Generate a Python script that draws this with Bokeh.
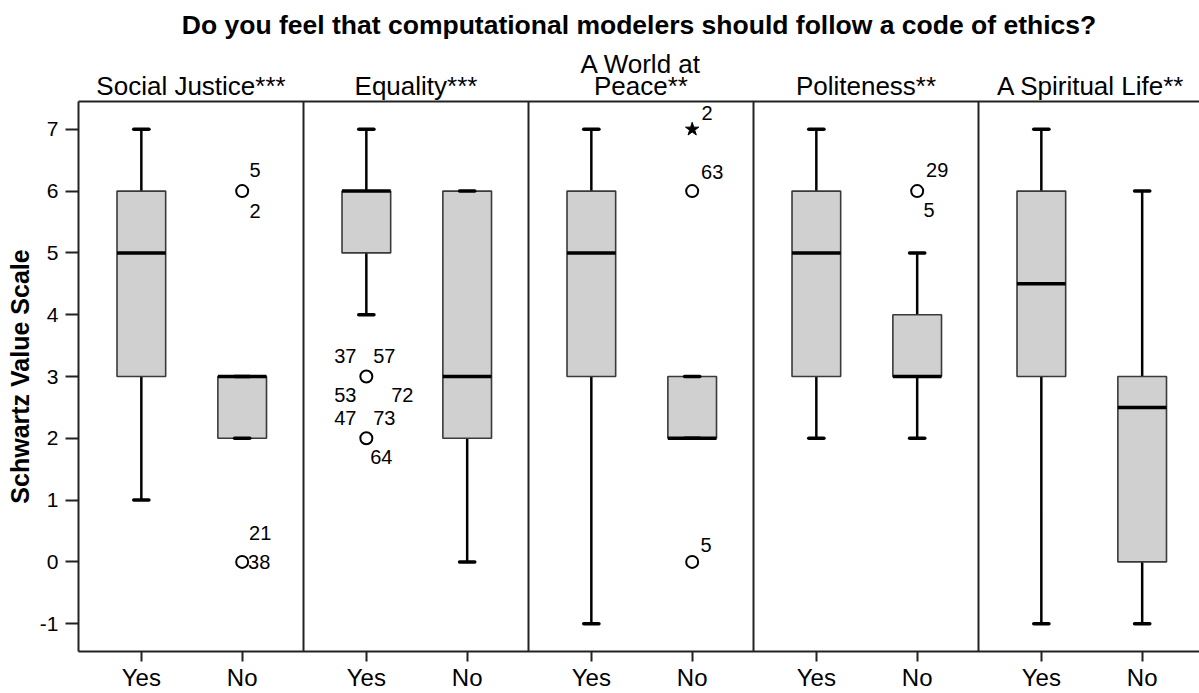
from bokeh.plotting import figure
from bokeh.models import Range1d, FixedTicker, LinearAxis, Span, ColumnDataSource
from bokeh.embed import file_html
from bokeh.resources import INLINE
from bokeh.core.properties import value

# ---------------- data ----------------
title_text = "Do you feel that computational modelers should follow a code of ethics?"
panels = ["Social Justice***", "Equality***", "A World at\nPeace**", "Politeness**", "A Spiritual Life**"]
groups = ["Yes", "No"]

# box statistics per panel: [Yes, No]
whisker_low = [[1, 2], [4, 0], [-1, 2], [2, 2], [-1, -1]]
quart1 = [[3, 2], [5, 2], [3, 2], [3, 3], [3, 0]]
medians = [[5, 3], [6, 3], [5, 2], [5, 3], [4.5, 2.5]]
quart3 = [[6, 3], [6, 6], [6, 3], [6, 4], [6, 3]]
whisker_high = [[7, 3], [7, 6], [7, 3], [7, 5], [7, 6]]

# outliers (circles)
out_panel = [0, 0, 1, 1, 2, 2, 3]
out_group = [1, 1, 0, 0, 1, 1, 1]
out_value = [6, 0, 3, 2, 6, 0, 6]
# extremes (stars)
ext_panel = [2]
ext_group = [1]
ext_value = [7]

# case labels
lab_panel = [0, 0, 0, 0, 1, 1, 1, 1, 1, 1, 1, 2, 2, 2, 3, 3]
lab_group = [1, 1, 1, 1, 0, 0, 0, 0, 0, 0, 0, 1, 1, 1, 1, 1]
lab_value = [6, 6, 0, 0, 3, 3, 3, 3, 2, 2, 2, 7, 6, 0, 6, 6]
lab_text = ["5", "2", "21", "38", "37", "57", "53", "72", "47", "73", "64", "2", "63", "5", "29", "5"]

y_ticks = [-1, 0, 1, 2, 3, 4, 5, 6, 7]
y_tick_labels = ["-1", "0", "1", "2", "3", "4", "5", "6", "7"]

# ---------------- layout / style ----------------
lab_dx = [13, 13, 18, 17, -21, 18, -21, 36, -21, 18, 15, 15, 20, 14, 20, 12]
lab_dy = [-21, 20, -29, 0, -21, -21, 18, 18, -20, -20, 19, -16, -19, -17, -21, 19]

FONT = "Liberation Sans"
W = 2.22
GPOS = [0.62, 1.615]
FIG_W, FIG_H = 1199, 693
LEFT = 78
FRAME_W = FIG_W - LEFT
x_end = W * FRAME_W / 225.0

p = figure(width=FIG_W, height=FIG_H, output_backend="svg", toolbar_location=None,
           x_range=Range1d(0, x_end), y_range=Range1d(-1.45, 7.45),
           min_border_left=LEFT, min_border_right=0, min_border_top=101, min_border_bottom=41,
           background_fill_color="white", border_fill_color="white", outline_line_color=None)
p.grid.visible = False

p.title.text = title_text
p.title.align = "center"
p.title.vertical_align = "top"
p.title.text_font = FONT
p.title.text_font_style = "bold"
p.title.text_font_size = "26.5px"
p.title.text_color = "black"
p.title.standoff = 8

# y axis
ya = p.yaxis[0]
ya.ticker = FixedTicker(ticks=y_ticks)
ya.major_label_overrides = {t: s for t, s in zip(y_ticks, y_tick_labels)}
ya.minor_tick_line_color = None
ya.major_tick_in = 0
ya.major_tick_out = 13
ya.major_tick_line_width = 2
ya.major_tick_line_color = "#222222"
ya.axis_line_width = 2
ya.axis_line_color = "#222222"
ya.major_label_text_font = FONT
ya.major_label_text_font_size = "21px"
ya.major_label_text_color = "black"
ya.major_label_standoff = 7
ya.axis_label = "Schwartz Value Scale"
ya.axis_label_text_font = FONT
ya.axis_label_text_font_style = "bold"
ya.axis_label_text_font_size = "25px"
ya.axis_label_text_color = "black"
ya.axis_label_standoff = 3

# x axis (Yes / No)
xticks, xover = [], {}
for pi in range(len(panels)):
    for g in range(2):
        t = pi * W + GPOS[g]
        xticks.append(t)
        xover[t] = groups[g]
xa = p.xaxis[0]
xa.ticker = FixedTicker(ticks=xticks)
xa.major_label_overrides = xover
xa.minor_tick_line_color = None
xa.major_tick_in = 0
xa.major_tick_out = 10
xa.major_tick_line_width = 2
xa.major_tick_line_color = "#222222"
xa.axis_line_width = 2
xa.axis_line_color = "#222222"
xa.major_label_text_font = FONT
xa.major_label_text_font_size = "24px"
xa.major_label_text_color = "black"
xa.major_label_standoff = 2

# header axis on top
centers = [pi * W + W / 2 for pi in range(len(panels))]
top_axis = LinearAxis(ticker=FixedTicker(ticks=centers),
                      major_label_overrides={c: n for c, n in zip(centers, panels)},
                      major_tick_in=0, major_tick_out=0, minor_tick_in=0, minor_tick_out=0,
                      axis_line_color="#222222", axis_line_width=2,
                      major_label_text_font=FONT, major_label_text_font_size="26px",
                      major_label_text_color="black", major_label_standoff=1,
                      major_label_text_line_height=0.72)
p.add_layout(top_axis, "above")

for k in range(1, len(panels)):
    p.add_layout(Span(location=k * W, dimension="height", line_color="#222222", line_width=2))

# boxes
bx, blo, bq1, bmed, bq3, bhi = [], [], [], [], [], []
for pi in range(len(panels)):
    for g in range(2):
        bx.append(pi * W + GPOS[g])
        blo.append(whisker_low[pi][g])
        bq1.append(quart1[pi][g])
        bmed.append(medians[pi][g])
        bq3.append(quart3[pi][g])
        bhi.append(whisker_high[pi][g])

BOX_W = 0.48
CAP = 0.075
src = ColumnDataSource(dict(x=bx, lo=blo, q1=bq1, med=bmed, q3=bq3, hi=bhi,
                            cl=[v - CAP for v in bx], cr=[v + CAP for v in bx],
                            ml=[v - BOX_W / 2 for v in bx], mr=[v + BOX_W / 2 for v in bx]))
p.segment(x0="x", y0="q3", x1="x", y1="hi", source=src, line_color="black", line_width=2.5)
p.segment(x0="x", y0="q1", x1="x", y1="lo", source=src, line_color="black", line_width=2.5)
p.vbar(x="x", width=BOX_W, bottom="q1", top="q3", source=src,
       fill_color="#d0d0d0", line_color="#3a3a3a", line_width=1.6)
p.segment(x0="cl", y0="hi", x1="cr", y1="hi", source=src, line_color="black", line_width=3.5, line_cap="round")
p.segment(x0="cl", y0="lo", x1="cr", y1="lo", source=src, line_color="black", line_width=3.5, line_cap="round")
p.segment(x0="ml", y0="med", x1="mr", y1="med", source=src, line_color="black", line_width=3.5)

# outliers
ox = [pi * W + GPOS[g] for pi, g in zip(out_panel, out_group)]
p.scatter(x=ox, y=out_value, marker="circle", size=12, fill_color="white",
          line_color="black", line_width=2)
ex = [pi * W + GPOS[g] for pi, g in zip(ext_panel, ext_group)]
p.scatter(x=ex, y=ext_value, marker="star", size=14, fill_color="black", line_color="black")

lx = [pi * W + GPOS[g] for pi, g in zip(lab_panel, lab_group)]
lsrc = ColumnDataSource(dict(x=lx, y=lab_value, t=lab_text, dx=lab_dx, dy=lab_dy))
p.text(x="x", y="y", text="t", x_offset="dx", y_offset="dy", source=lsrc,
       text_align="center", text_baseline="middle", text_font=value(FONT),
       text_font_size="20px", text_color="black")

open("out.html", "w").write(file_html(p, INLINE))
